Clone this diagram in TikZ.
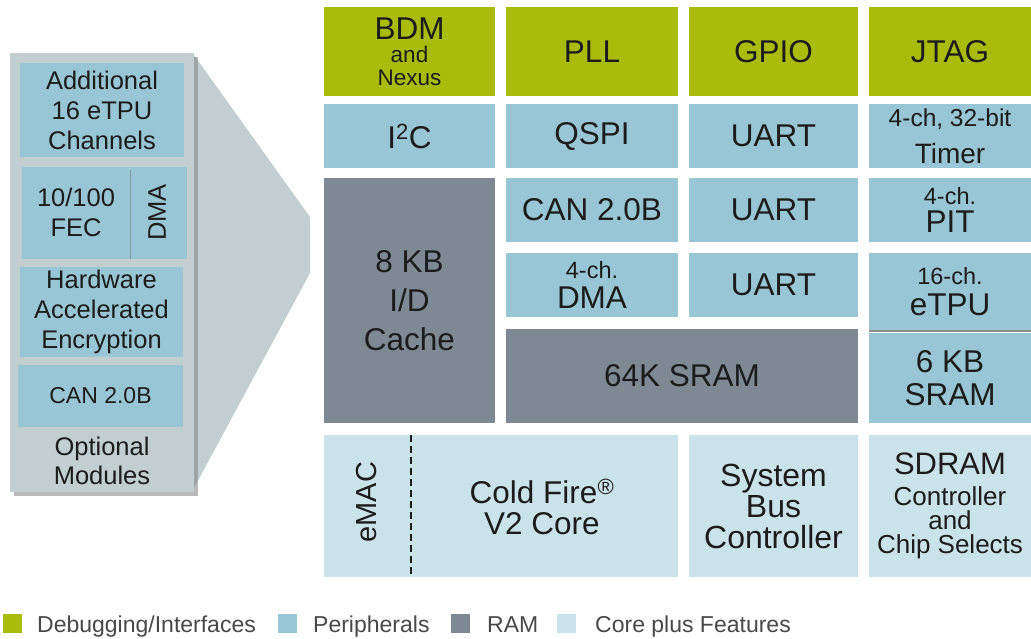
\documentclass[tikz,border=0pt]{standalone}
\usepackage{fontspec}
\setmainfont{Liberation Sans}
\usetikzlibrary{shadows}

\definecolor{dbg}{RGB}{169,187,11}
\definecolor{peri}{RGB}{152,198,213}
\definecolor{ram}{RGB}{127,137,148}
\definecolor{core}{RGB}{202,227,234}
\definecolor{panel}{RGB}{195,206,208}
\definecolor{ink}{RGB}{28,28,28}
\definecolor{legendink}{RGB}{72,72,72}
\definecolor{divider}{RGB}{128,150,160}
\definecolor{seam}{RGB}{140,142,138}

% font size helper: size and leading in pt
\newcommand\fsz[2]{\fontsize{#1}{#2}\selectfont}

% rectangular block from its corners: name, style, x1, y1, x2, y2, text
\newcommand\blk[7]{%
  \pgfmathsetmacro\blkw{#5-#3}\pgfmathsetmacro\blkh{#6-#4}%
  \node[#2, minimum width=\blkw pt, minimum height=\blkh pt] (#1)
    at ({(#3+#5)/2},{(#4+#6)/2}) {#7};}

\tikzset{
  blk/.style={rectangle, inner sep=0pt, align=center, text=ink},
  dbgbox/.style={blk, fill=dbg, font=\fsz{31.5}{34}},
  peribox/.style={blk, fill=peri, font=\fsz{31.5}{34}},
  rambox/.style={blk, fill=ram, font=\fsz{31.5}{34}},
  corebox/.style={blk, fill=core, font=\fsz{31.5}{31}},
  optbox/.style={blk, fill=peri, font=\fsz{25.5}{30}},
  lbl/.style={inner sep=0pt, align=center, text=ink},
  swatch/.style={rectangle, inner sep=0pt, minimum size=19pt},
  legendtext/.style={inner sep=0pt, anchor=base west, text=legendink, font=\fsz{23}{25}},
}

\begin{document}
\begin{tikzpicture}[x=1pt,y=-1pt]
\useasboundingbox (0,0) rectangle (1031,638);

% ---------- optional modules panel ----------
\fill[panel] (194,55) -- (310,217) -- (310,273) -- (194,488) -- cycle;
\blk{panel}{blk, fill=panel, drop shadow={shadow xshift=4pt, shadow yshift=-4pt, opacity=0.55}}{10}{53}{194}{492}{}

\blk{addetpu}{optbox}{20}{63}{184}{157}{Additional\\16 eTPU\\Channels}
\blk{fec}{optbox}{22}{167}{187}{259}{}
\node[lbl, font=\fsz{25.5}{30}] (fectext) at (76,212) {10/100\\FEC};
\node[lbl, font=\fsz{25.5}{30}, rotate=90] (fecdma) at (157,212.5) {DMA};
\path (fec.north west) ++(109,3) coordinate (fecsplit);
\draw[divider, line width=1.3pt] (fecsplit) -- (fecsplit |- fec.south);
\blk{hwenc}{optbox}{20}{267}{183}{357}{Hardware\\Accelerated\\Encryption}
\blk{optcan}{optbox, font=\fsz{23}{26}}{18}{365}{183}{427}{CAN 2.0B}
\node[lbl, font=\fsz{25.5}{29}] (opttitle) at (102,461) {Optional\\Modules};

% ---------- row 1: debugging / interfaces ----------
\blk{bdm}{dbgbox, font=\fsz{22.5}{23}}{324}{7}{495}{96}{{\fsz{31.5}{34}BDM}\\and\\Nexus}
\blk{pll}{dbgbox}{506}{7}{678}{96}{PLL}
\blk{gpio}{dbgbox}{689}{7}{858}{96}{GPIO}
\blk{jtag}{dbgbox}{869}{7}{1031}{96}{JTAG}

% ---------- row 2: peripherals ----------
\blk{iic}{peribox}{324}{104}{495}{168}{I\textsuperscript{2}C}
\blk{qspi}{peribox}{506}{104}{678}{168}{QSPI}
\blk{uarta}{peribox}{689}{104}{858}{168}{UART}
\blk{timer}{peribox, font=\fsz{24.5}{37}}{869}{104}{1031}{168}{4-ch, 32-bit\\{\fsz{28}{30}Timer}}

% ---------- rows 3 to 5 ----------
\blk{cache}{rambox, font=\fsz{31.5}{39}}{324}{178}{495}{423}{8 KB\\I/D\\Cache}
\blk{can}{peribox}{506}{178}{678}{242}{CAN 2.0B}
\blk{uartb}{peribox}{689}{178}{858}{242}{UART}
\blk{pit}{peribox, font=\fsz{23.5}{28}}{869}{178}{1031}{242}{4-ch.\\{\fsz{31.5}{34}PIT}}
\blk{dma}{peribox, font=\fsz{23.5}{30}}{506}{253}{678}{317}{4-ch.\\{\fsz{31.5}{34}DMA}}
\blk{uartc}{peribox}{689}{253}{858}{317}{UART}
\blk{etpu}{peribox, font=\fsz{23.5}{31}}{869}{253}{1031}{331}{16-ch.\\{\fsz{31.5}{34}eTPU}}
\blk{sram}{peribox, font=\fsz{31.5}{33}}{869}{333}{1031}{423}{6 KB\\SRAM}
\draw[seam, line width=1.8pt] (etpu.south west) -- (etpu.south east);
\blk{sramb}{rambox}{506}{329}{858}{423}{64K SRAM}

% ---------- bottom row: core plus features ----------
\blk{core}{corebox}{324}{435}{678}{577}{}
\path (core.north west) ++(87,0) coordinate (coresplit);
\draw[ink, line width=1.4pt, dash pattern=on 7pt off 4pt] (coresplit) -- (coresplit |- core.south);
\node[lbl, font=\fsz{29}{31}, rotate=90] (emac) at (367,502) {eMAC};
\node[lbl, font=\fsz{31.5}{31}] (cfcore) at (542,507) {Cold Fire\textsuperscript{®}\\V2 Core};
\blk{sysbus}{corebox, font=\fsz{32}{31}}{689}{435}{858}{577}{System\\Bus\\Controller}
\blk{sdram}{corebox, font=\fsz{26}{24}}{869}{435}{1031}{577}{{\fsz{31}{34}SDRAM}\\[7pt]Controller\\and\\Chip Selects}

% ---------- legend ----------
\node[swatch, fill=dbg] (keydbg) at (12,623) {};
\node[legendtext] (keydbgtext) at (37,632) {Debugging/Interfaces};
\node[swatch, fill=peri] (keyperi) at (287,623) {};
\node[legendtext] (keyperitext) at (313,632) {Peripherals};
\node[swatch, fill=ram] (keyram) at (460,623) {};
\node[legendtext] (keyramtext) at (487,632) {RAM};
\node[swatch, fill=core] (keycore) at (566,623) {};
\node[legendtext] (keycoretext) at (595,632) {Core plus Features};
\end{tikzpicture}
\end{document}
